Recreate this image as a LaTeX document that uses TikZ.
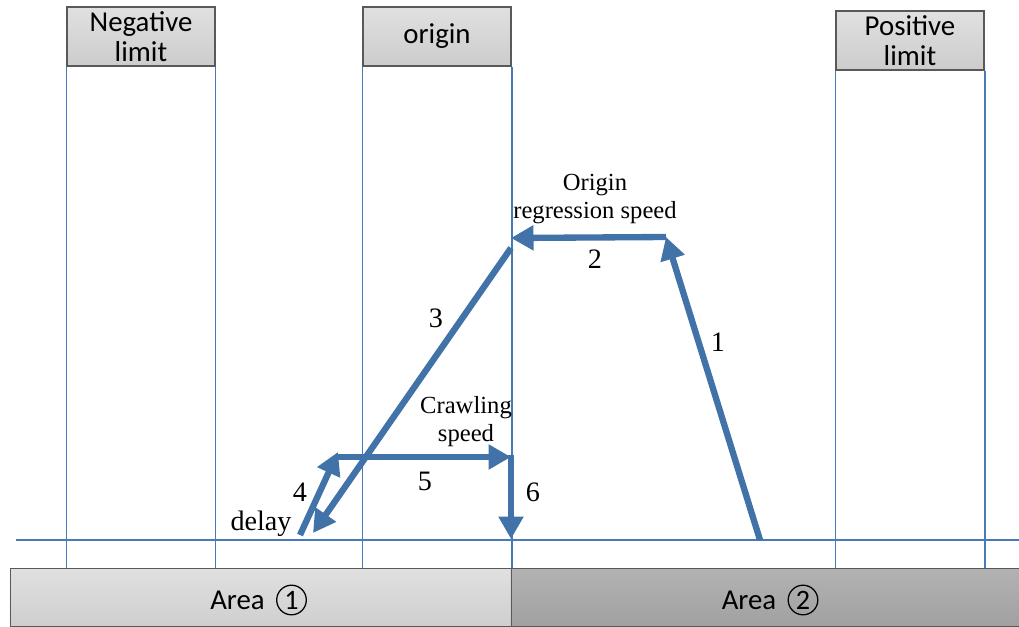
\documentclass[tikz,border=0pt]{standalone}
\usepackage{fontspec}
\setmainfont{Liberation Serif}
\newfontfamily\calib{Carlito}
\usetikzlibrary{arrows.meta,calc}
\definecolor{guideblue}{RGB}{70,122,184}
\definecolor{moveblue}{RGB}{65,114,168}
\definecolor{boxgray}{RGB}{89,89,89}
\tikzset{
  header/.style={
    draw=boxgray,
    line width=1pt,
    top color=black!12,
    bottom color=black!20,
    minimum width=3.7cm,
    minimum height=1.475cm,
    align=center,
    inner sep=0pt,
    font=\calib\fontsize{20.5}{21.5}\selectfont
  },
  areabox/.style={draw=boxgray, line width=0.6pt, minimum height=1.45cm, inner sep=0pt},
  areatext/.style={inner sep=0pt, font=\calib\fontsize{20.5}{22}\selectfont},
  areanum/.style={circle, draw=black, line width=0.9pt, minimum size=0.74cm,
    inner sep=0pt, font=\calib\fontsize{20}{22}\selectfont},
  guide/.style={draw=guideblue, line width=1.1pt},
  move/.style={-{Triangle[length=16pt,width=17pt]}, line width=4.5pt, draw=moveblue},
  steplabel/.style={inner sep=0pt, font=\fontsize{20}{22}\selectfont},
  speedlabel/.style={inner sep=0pt, align=center, font=\fontsize{17.5}{20}\selectfont}
}

\begin{document}
\begin{tikzpicture}[x=0.025cm, y=-0.025cm]
  \useasboundingbox (0,0) rectangle (1019,626);
  % limit switches and origin
  \node[header] (neg) at (141,36.5) {Negative\\limit};
  \node[header] (org) at (437,36.5) {origin};
  \node[header] (pos) at (910,40.5) {Positive\\limit};
  % area bar
  \node[areabox, minimum width=12.525cm, top color=black!12, bottom color=black!19]
    (area1) at (260.5,597) {};
  \node[areabox, minimum width=12.7cm, top color=black!30, bottom color=black!37]
    (area2) at (765,597) {};
  \node[areatext] (a1txt) at (237.5,600) {Area};
  \node[areanum] (a1num) at (291.5,600) {1};
  \node[areatext] (a2txt) at (749,600) {Area};
  \node[areanum] (a2num) at (803,600) {2};
  % column guides
  \foreach \h in {neg,org,pos} {
    \draw[guide] (\h.south west) -- (\h.south west |- area1.north);
    \draw[guide] (\h.south east) -- (\h.south east |- area1.north);
  }
  \coordinate (axisL) at (16,540);
  \coordinate (axisR) at (1019,540);
  \draw[guide] (axisL) -- (axisR);

  % moving path
  \coordinate (p0) at (760,540);
  \coordinate (p1) at (666,237);
  \coordinate (p2) at (511,238);
  \coordinate (p3s) at (511,248);
  \coordinate (p3) at (313,533);
  \coordinate (p4s) at (300,535);
  \coordinate (p4) at (338,452);
  \coordinate (p5s) at (336,457);
  \coordinate (p5) at (511,457);
  \coordinate (p6s) at (511,455);
  \coordinate (p6) at (511,539);
  \draw[move] (p0) -- (p1);
  \draw[move] (p1) -- (p2);
  \draw[move] (p3s) -- (p3);
  \draw[move] (p4s) -- (p4);
  \draw[move] (p5s) -- (p5);
  \draw[move] (p6s) -- (p6);

  % labels
  \node[speedlabel] (regr) at (595,199) {Origin\\regression speed};
  \node[speedlabel] (crawl) at (466,422) {Crawling\\speed};
  \node[steplabel] (n1) at (718,342) {1};
  \node[steplabel] (n2) at (595,259) {2};
  \node[steplabel] (n3) at (436,318) {3};
  \node[steplabel] (n4) at (300,492) {4};
  \node[steplabel] (n5) at (425,481) {5};
  \node[steplabel] (n6) at (533,492) {6};
  \node[speedlabel, font=\fontsize{20}{22}\selectfont] (dly) at (261,524) {delay};
\end{tikzpicture}
\end{document}
